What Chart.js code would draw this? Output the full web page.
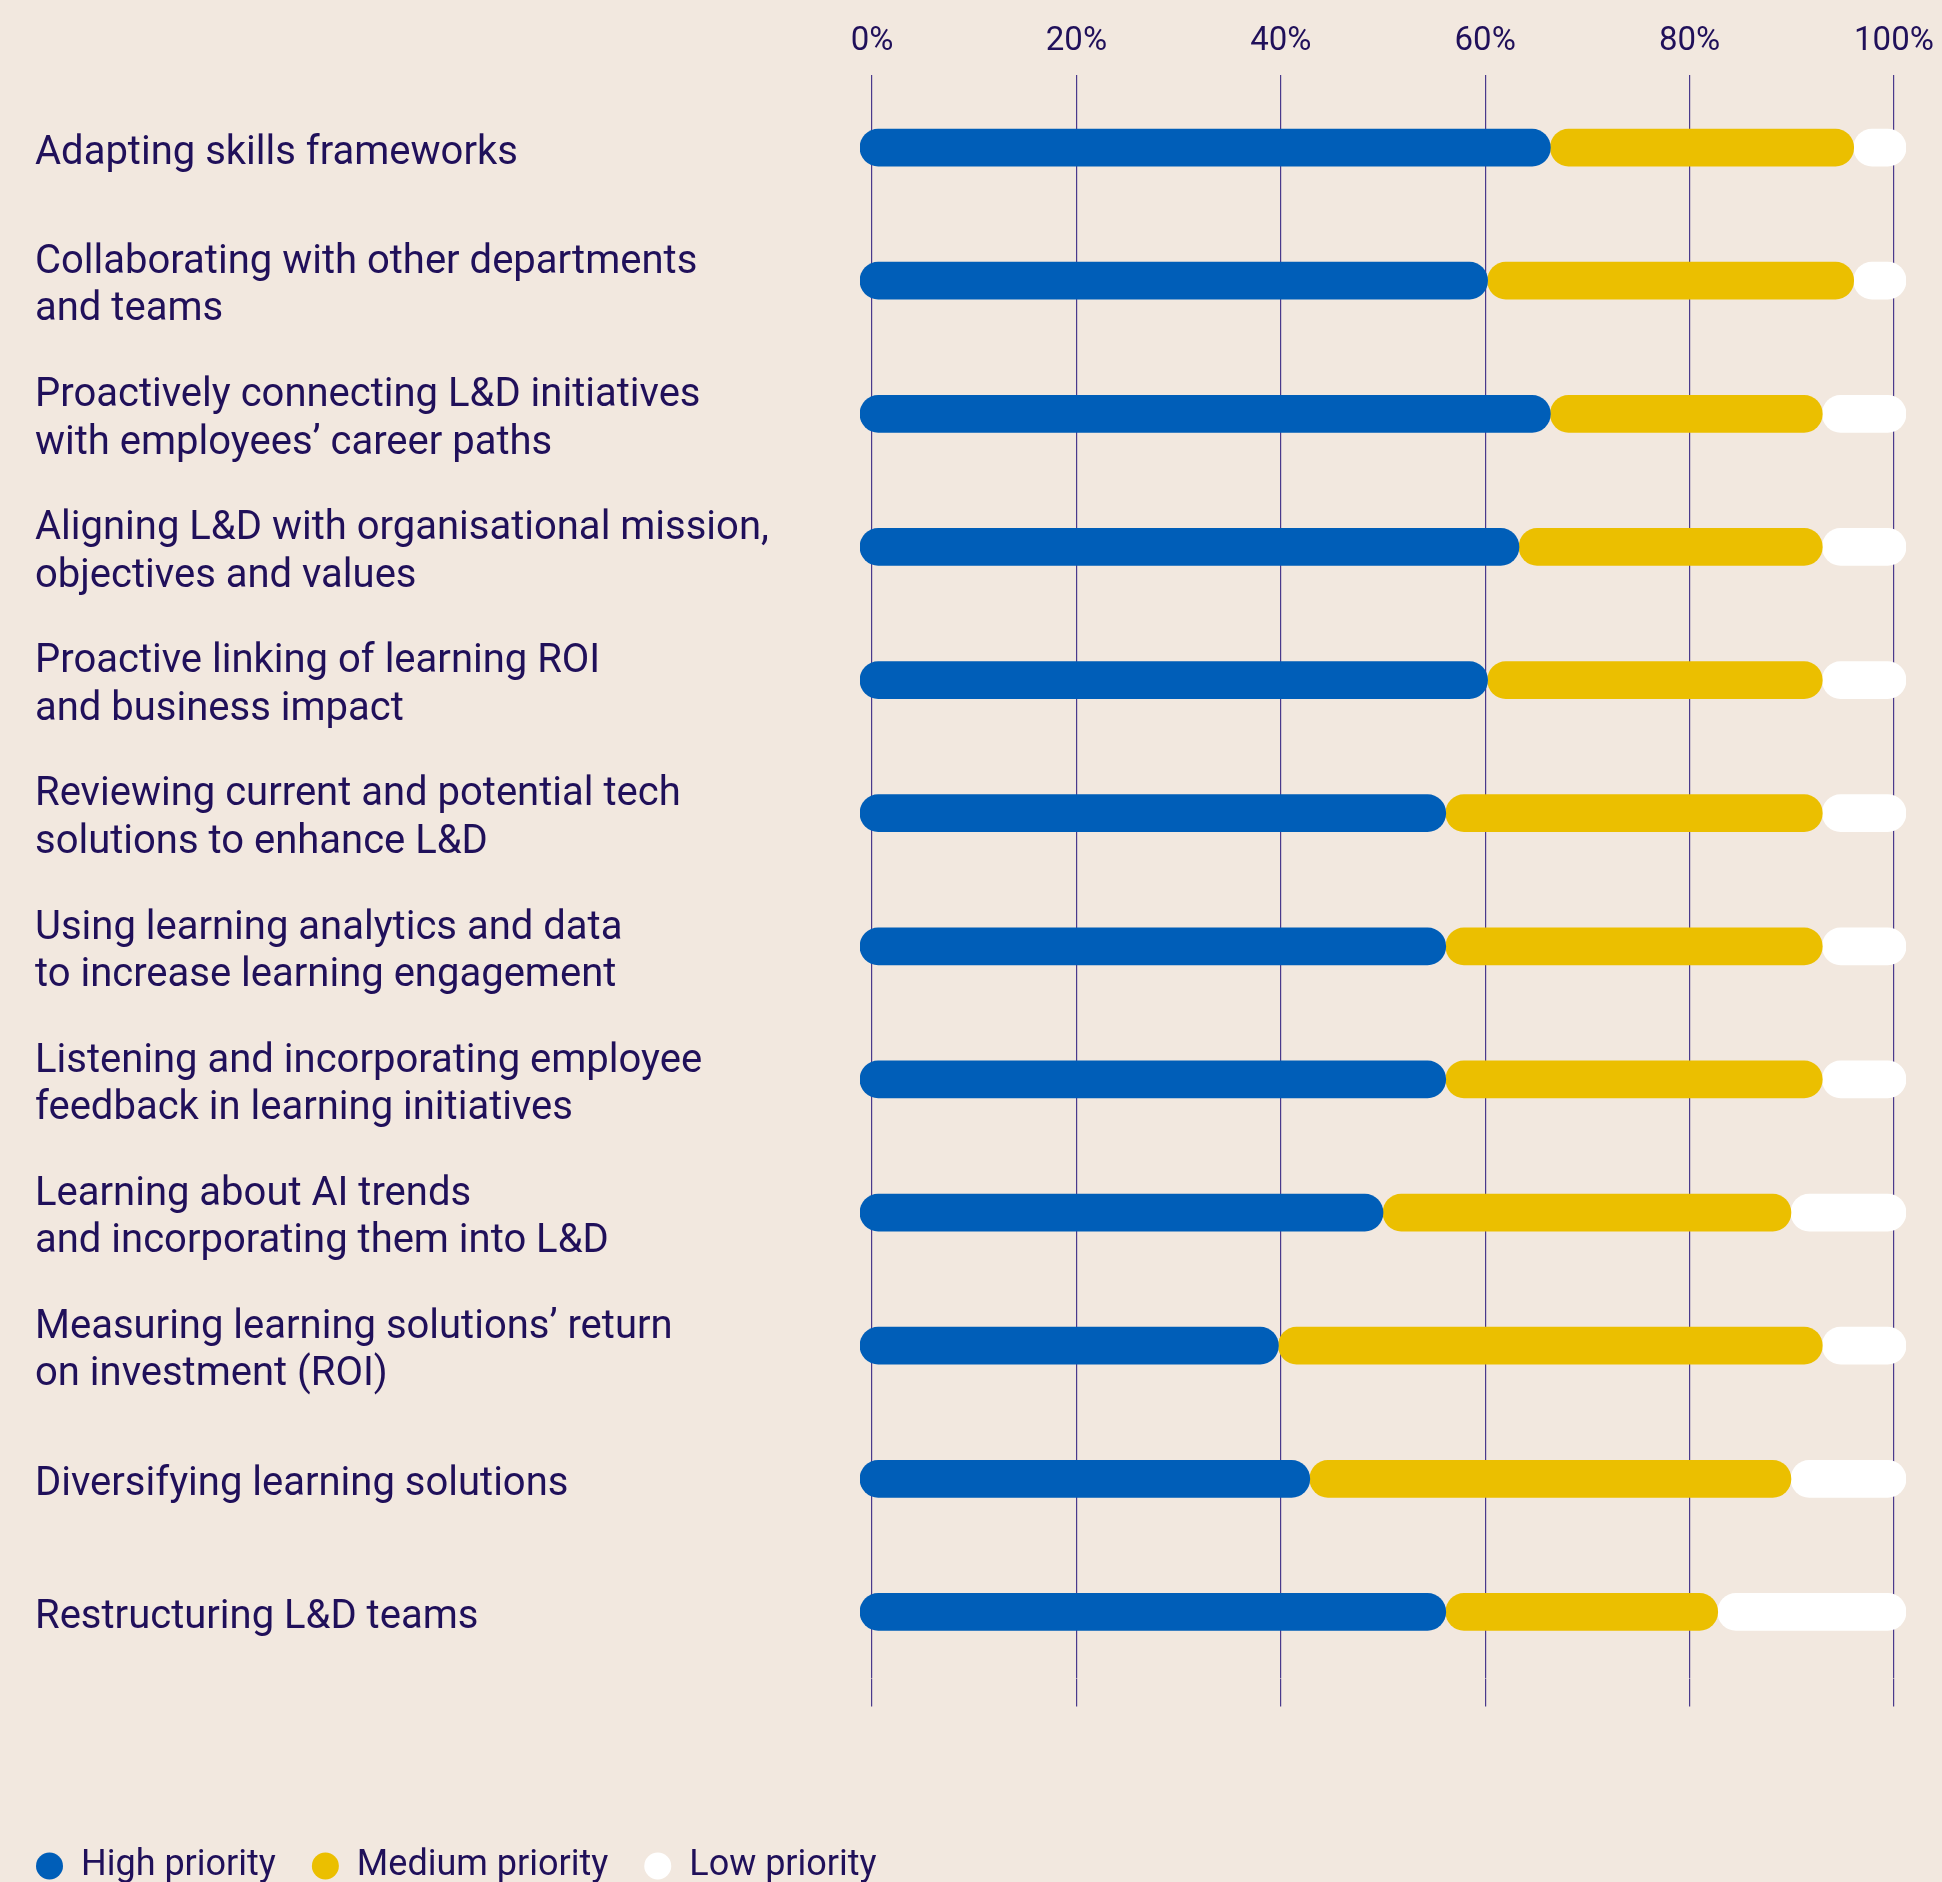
<!DOCTYPE html>
<html>
<head>
<meta charset="utf-8">
<title>L&amp;D priorities</title>
<script src="https://cdn.jsdelivr.net/npm/chart.js@4.4.1/dist/chart.umd.min.js"></script>
<style>
	html, body { margin: 0; padding: 0; background: #f2e8df; }
	#wrap { width: 1942px; height: 1882px; }
</style>
</head>
<body>
<div id="wrap"><canvas id="priorityChart" width="1942" height="1882"></canvas></div>
<script>
const categories = [
	'Adapting skills frameworks',
	['Collaborating with other departments', 'and teams'],
	['Proactively connecting L&D initiatives', 'with employees\u2019 career paths'],
	['Aligning L&D with organisational mission,', 'objectives and values'],
	['Proactive linking of learning ROI', 'and business impact'],
	['Reviewing current and potential tech', 'solutions to enhance L&D'],
	['Using learning analytics and data', 'to increase learning engagement'],
	['Listening and incorporating employee', 'feedback in learning initiatives'],
	['Learning about AI trends', 'and incorporating them into L&D'],
	['Measuring learning solutions\u2019 return', 'on investment (ROI)'],
	'Diversifying learning solutions',
	'Restructuring L&D teams'
];

const highPriority = [66, 60, 66, 63, 60, 56, 56, 56, 50, 40, 43, 56];
const mediumPriority = [29, 35, 26, 29, 32, 36, 36, 36, 39, 52, 46, 26];
const lowPriority = [5, 5, 8, 8, 8, 8, 8, 8, 11, 8, 11, 18];

const tickValues = [0, 20, 40, 60, 80, 100];

const textColor = '#20105a';
const gridColor = '#4a3a8c';
const fontFamily = 'Roboto, "Noto Sans", sans-serif';

// the pills overhang the 0% and 100% gridlines a little
const GRID_INSET = 1.18;

// each segment is its own floating bar so that both ends get rounded
const highRanges = highPriority.map(v => [0, v]);
const mediumRanges = mediumPriority.map((v, i) => [highPriority[i], highPriority[i] + v]);
const lowRanges = lowPriority.map((v, i) => {
	const start = highPriority[i] + mediumPriority[i];
	return [start, start + v];
});

function segment(label, data, color) {
	return {
		label: label,
		data: data,
		backgroundColor: color,
		borderColor: color,
		borderWidth: 0,
		borderRadius: 18.5,
		borderSkipped: false,
		barThickness: 37,
		grouped: false,
	};
}

const useTickValues = scale => {
	scale.ticks = tickValues.map(v => ({ value: v }));
};

const legendToEdge = {
	id: 'legendToEdge',
	afterLayout(chart) {
		const legend = chart.legend;
		const w = legend.width;
		legend.left = 0;
		legend.right = w;
	}
};

Chart.defaults.font.family = fontFamily;
Chart.defaults.color = textColor;

const ctx = document.getElementById('priorityChart').getContext('2d');

new Chart(ctx, {
	type: 'bar',
	data: {
		labels: categories,
		datasets: [
			segment('High priority', highRanges, '#005eb8'),
			segment('Medium priority', mediumRanges, '#ebbf00'),
			segment('Low priority', lowRanges, '#ffffff'),
		]
	},
	plugins: [legendToEdge],
	options: {
		indexAxis: 'y',
		responsive: false,
		animation: false,
		events: [],
		layout: {
			padding: { left: 35, right: 36, top: 0, bottom: -12 }
		},
		plugins: {
			legend: {
				position: 'bottom',
				align: 'start',
				labels: {
					usePointStyle: true,
					pointStyle: 'circle',
					pointStyleWidth: 27,
					boxHeight: 19,
					padding: 36,
					color: textColor,
					font: { size: 36 },
				}
			},
			tooltip: { enabled: false }
		},
		scales: {
			x: {
				type: 'linear',
				min: 0,
				max: 100,
				display: false,
			},
			xTicks: {
				axis: 'x',
				type: 'linear',
				position: 'top',
				min: -GRID_INSET,
				max: 100 + GRID_INSET,
				afterBuildTicks: useTickValues,
				afterFit: scale => {
					scale.height = 81;
					scale.paddingLeft = 0;
					scale.paddingRight = 0;
				},
				border: { display: false },
				grid: { color: gridColor, lineWidth: 1.2, tickLength: 6 },
				ticks: {
					autoSkip: false,
					maxRotation: 0,
					padding: 13,
					color: textColor,
					font: { size: 33 },
					callback: v => `${v}%`,
				}
			},
			xGrid: {
				axis: 'x',
				type: 'linear',
				position: 'bottom',
				min: -GRID_INSET,
				max: 100 + GRID_INSET,
				afterBuildTicks: useTickValues,
				afterFit: scale => {
					scale.height = 133.5;
					scale.paddingLeft = 0;
					scale.paddingRight = 0;
				},
				border: { display: false },
				grid: { color: gridColor, lineWidth: 1.2, tickLength: 28, drawOnChartArea: false },
				ticks: { display: false, autoSkip: false }
			},
			y: {
				type: 'category',
				offset: true,
				afterFit: scale => { scale.width = 825; },
				border: { display: false },
				grid: { display: false },
				ticks: {
					autoSkip: false,
					crossAlign: 'far',
					labelOffset: 6,
					color: textColor,
					font: { size: 40, lineHeight: 1.19 },
				}
			}
		}
	}
});
</script>
</body>
</html>
